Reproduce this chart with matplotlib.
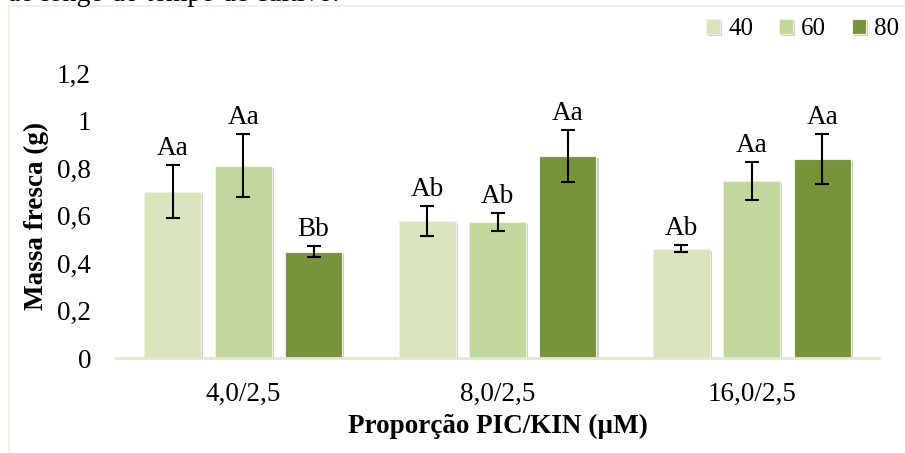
import numpy as np
import matplotlib.pyplot as plt
import matplotlib.patheffects as pe
from matplotlib.patches import Rectangle

plt.rcParams['font.family'] = ['Liberation Serif', 'DejaVu Serif']

# Fresh mass per PIC/KIN ratio, one series per day of culture
categories = ["4,0/2,5", "8,0/2,5", "16,0/2,5"]
series = ["40", "60", "80"]
mass_40 = [0.700, 0.575, 0.460]
mass_60 = [0.810, 0.572, 0.745]
mass_80 = [0.448, 0.850, 0.838]
err_40 = [0.112, 0.063, 0.015]
err_60 = [0.132, 0.038, 0.080]
err_80 = [0.024, 0.110, 0.105]
letters_40 = ["Aa", "Ab", "Ab"]
letters_60 = ["Aa", "Ab", "Aa"]
letters_80 = ["Bb", "Aa", "Aa"]
colors = ["#d8e4bc", "#c3d69b", "#77933c"]

FS = 19.5

fig = plt.figure(figsize=(9.05, 4.53), dpi=100)
ax = fig.add_axes([116 / 905, 1 - 358 / 453, (879 - 116) / 905, 285 / 453])

# chart frame and the cut-off caption line above it
fig.patches.append(Rectangle((9 / 905, -0.1), 1.0, 1 - 6 / 453 + 0.1,
                             transform=fig.transFigure, fill=False,
                             edgecolor="#ebeedb", linewidth=1.2))
fig.text(8 / 905, 1 - 1 / 453, "ao longo do tempo de cultivo.", fontsize=20,
         va="baseline", ha="left", color="black")

x = np.arange(len(categories))
width = 0.224
pitch = 0.277
shadow = [pe.SimplePatchShadow(offset=(1.5, -1.5), alpha=0.25), pe.Normal()]

groups = [(mass_40, err_40, letters_40), (mass_60, err_60, letters_60),
          (mass_80, err_80, letters_80)]
handles = []
for i, (vals, errs, letters) in enumerate(groups):
    pos = x + (i - 1) * pitch
    bars = ax.bar(pos, vals, width, color=colors[i], edgecolor="#eef2e4",
                  linewidth=0.8, label=series[i], zorder=2)
    for b in bars:
        b.set_path_effects(shadow)
    handles.append(bars)
    ax.errorbar(pos, vals, yerr=errs, fmt="none", ecolor="black",
                elinewidth=1.5, capsize=5, capthick=1.5, zorder=3)
    for p, v, e, t in zip(pos, vals, errs, letters):
        ax.annotate(t, (p, v + e), xytext=(0, 3), textcoords="offset points",
                    ha="center", va="bottom", fontsize=FS)

ax.set_xlim(-0.5, 2.5)
ax.set_ylim(0, 1.2)
ax.set_yticks(np.arange(0, 1.21, 0.2))
ax.set_yticklabels(["0", "0,2", "0,4", "0,6", "0,8", "1", "1,2"])
ax.set_xticks(x)
ax.set_xticklabels(categories)
ax.tick_params(axis="both", length=0, labelsize=FS)
ax.tick_params(axis="y", pad=18)
ax.tick_params(axis="x", pad=17)

for s in ["top", "right", "left"]:
    ax.spines[s].set_visible(False)
ax.spines["bottom"].set_color("#e3e8d0")
ax.spines["bottom"].set_linewidth(2)

ax.set_ylabel("Massa fresca (g)", fontsize=FS, fontweight="bold", labelpad=6)
ax.set_xlabel("Proporção PIC/KIN (µM)", fontsize=FS, fontweight="bold", labelpad=5)

ax.legend(handles=handles, loc="center right",
          bbox_to_anchor=(899 / 905, 1 - 29 / 453), bbox_transform=fig.transFigure,
          ncol=3, frameon=False, fontsize=18, handlelength=0.56,
          handleheight=0.56, handletextpad=0.32, columnspacing=1.04,
          borderaxespad=0, borderpad=0)

fig.savefig("out.png", dpi=100)
